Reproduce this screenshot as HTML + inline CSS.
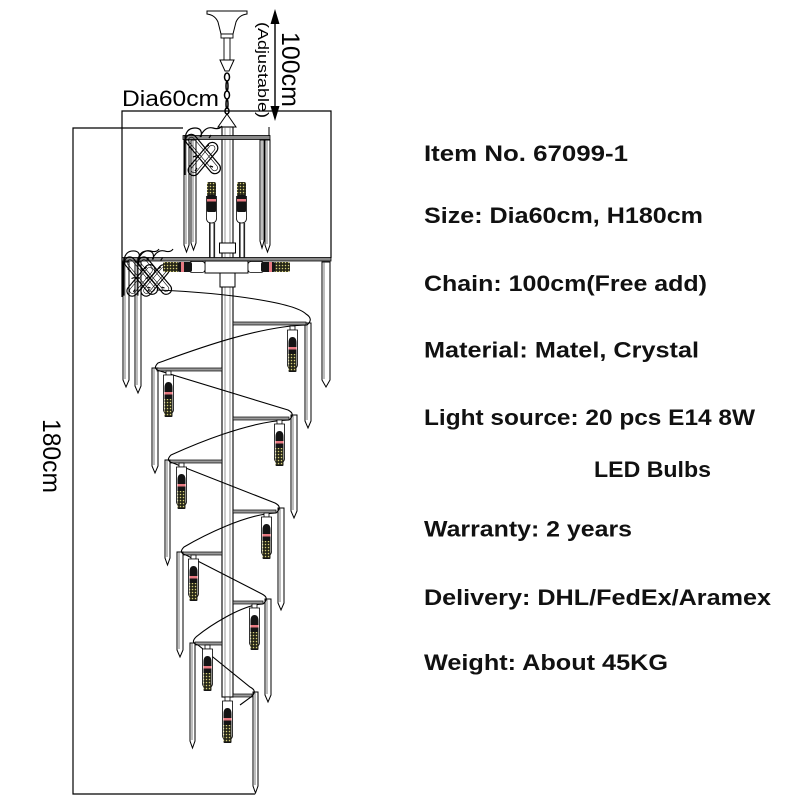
<!DOCTYPE html>
<html>
<head>
<meta charset="utf-8">
<style>
html,body{margin:0;padding:0;background:#fff;}
svg{display:block;}
.t{font-family:"Liberation Sans",Arial,sans-serif;font-weight:bold;font-size:22px;fill:#111;}
.d{font-family:"Liberation Sans",Arial,sans-serif;fill:#000;}
</style>
</head>
<body>
<svg width="800" height="800" viewBox="0 0 800 800" xmlns="http://www.w3.org/2000/svg">
<defs>
  <pattern id="dots" width="3" height="3" patternUnits="userSpaceOnUse">
    <rect width="3" height="3" fill="#262618"/>
    <circle cx="1.5" cy="1.5" r="0.75" fill="#d6cf7a"/>
  </pattern>
  <g id="hb">
    <rect x="3" y="0" width="5" height="4" fill="#fff" stroke="#000" stroke-width="0.8"/>
    <path d="M0.5,4 H10.5 V38 Q10.5,43 5.5,43 Q0.5,43 0.5,38 Z" fill="#fff" stroke="#000" stroke-width="0.8"/>
    <path d="M1.5,17 Q1.5,11 5.5,11 Q9.5,11 9.5,17 V45 Q9.5,46 8.5,46 H2.5 Q1.5,46 1.5,45 Z" fill="#141414"/>
    <rect x="1.5" y="21" width="8" height="2.5" fill="#e87a82"/>
    <rect x="1.5" y="28" width="8" height="17" fill="url(#dots)"/>
  </g>
  <g id="ub">
    <path d="M0.5,14 V36 Q0.5,41 5.5,41 Q10.5,41 10.5,36 V14" fill="#fff" stroke="#000" stroke-width="0.8"/>
    <rect x="1" y="0" width="9" height="14" rx="2" fill="url(#dots)"/>
    <rect x="1" y="13" width="9" height="17" rx="1" fill="#141414"/>
    <rect x="1" y="17" width="9" height="2.5" fill="#e87a82"/>
  </g>
  <g id="hl">
    <rect x="26" y="0.5" width="16" height="11" rx="3" fill="#fff" stroke="#000" stroke-width="0.8"/>
    <rect x="0" y="1" width="16" height="10" rx="2" fill="url(#dots)"/>
    <rect x="15" y="1" width="14" height="10" rx="2" fill="#141414"/>
    <rect x="18" y="1" width="3" height="10" fill="#e87a82"/>
  </g>
  <g id="sc" fill="none" stroke="#000" stroke-width="1.2">
    <rect x="-5.5" y="-24" width="11" height="48" rx="5.5" transform="translate(20,27) rotate(-40)"/>
    <rect x="-3" y="-21" width="6" height="42" rx="3" transform="translate(20,27) rotate(-40)" stroke-width="0.6"/>
    <rect x="-5.5" y="-20" width="11" height="40" rx="5.5" transform="translate(20,32) rotate(40)"/>
    <rect x="-3" y="-17" width="6" height="34" rx="3" transform="translate(20,32) rotate(40)" stroke-width="0.6"/>
    <path d="M2,14 Q2,1 12,1 Q20,1 18,10 M17,10 Q22,-1 30,1 Q36,3 39,-1 M2,8 V48 M6,20 l3,2 M10,30 l3,-1 M26,18 l-3,2 M30,40 l-3,-1 M12,44 l2,-3 M28,8 l-2,3"/>
  </g>
</defs>
<rect width="800" height="800" fill="#fff"/>

<!-- dimension lines -->
<polyline points="183,128 73,128 73,794 255,794" fill="none" stroke="#000" stroke-width="1.2"/>
<polyline points="122,297 122,111 331,111 331,258" fill="none" stroke="#000" stroke-width="1.2"/>
<line x1="275" y1="20" x2="275" y2="110" stroke="#000" stroke-width="1.4"/>
<polygon points="275,9 270.5,24 279.5,24" fill="#000"/>
<polygon points="275,121 270.5,106 279.5,106" fill="#000"/>

<text class="d" x="122" y="106" font-size="22" textLength="97" lengthAdjust="spacingAndGlyphs">Dia60cm</text>
<text class="d" font-size="25" transform="translate(282,32) rotate(90)" textLength="75" lengthAdjust="spacingAndGlyphs">100cm</text>
<text class="d" font-size="15" transform="translate(258,22) rotate(90)" textLength="96" lengthAdjust="spacingAndGlyphs">(Adjustable)</text>
<text class="d" font-size="25" transform="translate(43,419) rotate(90)" textLength="74" lengthAdjust="spacingAndGlyphs">180cm</text>

<!-- canopy and chain -->
<path d="M207,11 H247 V14 Q239,15 236,22 Q234,30 233,34 H221 Q220,30 218,22 Q215,15 207,14 Z" fill="#fff" stroke="#000" stroke-width="1"/>
<rect x="221" y="34" width="12" height="4" fill="#fff" stroke="#000" stroke-width="0.9"/>
<rect x="224" y="38" width="6" height="22" fill="#fff" stroke="#000" stroke-width="0.9"/>
<path d="M220,60 H234 L229,71 H225 Z" fill="#fff" stroke="#000" stroke-width="1"/>
<g fill="none" stroke="#000" stroke-width="1.5">
  <ellipse cx="227" cy="77" rx="2.5" ry="4"/>
  <ellipse cx="227" cy="86" rx="1" ry="4.5"/>
  <ellipse cx="227" cy="95" rx="2.5" ry="4"/>
  <ellipse cx="227" cy="104" rx="1" ry="4.5"/>
  <ellipse cx="227" cy="111" rx="2" ry="3"/>
</g>
<path d="M227,114 L218,127 H236 Z" fill="#fff" stroke="#000" stroke-width="1"/>

<!-- crystals -->
<g fill="#fff" stroke="#000" stroke-width="1">
  <path d="M184,140 V245 L186.5,252 L189,245 V140 Z"/>
  <path d="M191,140 V243 L193.5,250 L196,243 V140 Z"/>
  <path d="M260,140 V241 L262,248 L264,241 V140 Z"/>
  <path d="M265,140 V245 L267.5,252 L270,245 V140 Z"/>
  <path d="M123,262 V380 L126,387 L129,380 V262 Z"/>
  <path d="M135,262 V386 L138,393 L141,386 V262 Z"/>
  <path d="M322,262 V380 L326,387 L330,380 V262 Z"/>
  <path d="M305,323 V421 L308,428 L311,421 V323 Z"/>
  <path d="M152,368 V466 L155,473 L158,466 V368 Z"/>
  <path d="M291,415 V511 L294,518 L297,511 V415 Z"/>
  <path d="M165,460 V558 L167.5,565 L170,558 V460 Z"/>
  <path d="M278,508 V603 L281,610 L284,603 V508 Z"/>
  <path d="M177,552 V650 L180,657 L183,650 V552 Z"/>
  <path d="M265,599 V695 L268,702 L271,695 V599 Z"/>
  <path d="M190,643 V741 L192.5,748 L195,741 V643 Z"/>
  <path d="M253,692 V786 L255.5,793 L258,786 V692 Z"/>
</g>
<g fill="none" stroke="#444" stroke-width="0.7">
  <path d="M186,140 V244 M193,140 V242 M262,140 V240 M267,140 V244 M125,262 V379 M137,262 V385 M324,262 V379 M307,323 V420 M154,368 V465 M293,415 V510 M167,460 V557 M280,508 V602 M179,552 V649 M267,599 V694 M192,643 V740 M255,692 V785"/>
</g>

<!-- central rod -->
<rect x="222" y="127" width="11" height="570" fill="#fff" stroke="#000" stroke-width="1.1"/>
<path d="M225,127 V697 M230,127 V697" stroke="#555" stroke-width="0.6"/>

<!-- tier 1 -->
<rect x="183" y="135.5" width="87" height="4" fill="#8a8a8a" stroke="#000" stroke-width="0.8"/>
<line x1="269" y1="127" x2="269" y2="136" stroke="#000" stroke-width="1"/>
<use href="#sc" transform="translate(183,127)"/>
<rect x="209" y="223" width="1.6" height="35" fill="#222"/>
<rect x="213.5" y="223" width="1.6" height="35" fill="#222"/>
<rect x="239" y="223" width="1.6" height="35" fill="#222"/>
<rect x="243.5" y="223" width="1.6" height="35" fill="#222"/>
<use href="#ub" transform="translate(206,182)"/>
<use href="#ub" transform="translate(236,182)"/>
<rect x="219.5" y="243" width="16" height="10" fill="#fff" stroke="#000" stroke-width="1"/>

<!-- tier 2 -->
<rect x="122" y="257.5" width="209" height="3.5" fill="#8a8a8a" stroke="#000" stroke-width="0.8"/>
<use href="#sc" transform="translate(122,250) scale(0.95)"/>
<use href="#sc" transform="translate(136,250) scale(0.95)"/>
<rect x="205" y="261" width="43" height="12" fill="#fff" stroke="#000" stroke-width="1"/>
<rect x="220" y="273" width="15" height="14" fill="#fff" stroke="#000" stroke-width="1"/>
<use href="#hl" transform="translate(163,261)"/>
<use href="#hl" transform="translate(290,261) scale(-1,1)"/>

<!-- shelves -->
<g fill="#9a9a9a" stroke="#000" stroke-width="0.7">
  <rect x="233" y="322" width="73" height="3"/>
  <rect x="233" y="417" width="56" height="3"/>
  <rect x="233" y="510" width="43" height="3"/>
  <rect x="233" y="601" width="30" height="3"/>
  <rect x="233" y="694" width="19" height="3"/>
  <rect x="157" y="368" width="65" height="3"/>
  <rect x="170" y="460" width="52" height="3"/>
  <rect x="183" y="552" width="39" height="3"/>
  <rect x="195" y="642" width="27" height="3"/>
</g>

<!-- spiral -->
<path d="M157,290 C230,293 295,303 306,314 Q314,319 307,325
C256,326 186,353 158,363 Q152,369 160,371
L288,410 Q296,414 289,420
C249,421 193,445 171,455 Q165,461 173,463
L275,503 Q283,507 276,513
C245,514 201,537 184,547 Q178,553 186,555
L262,594 Q270,598 263,604
C241,605 208,627 196,637 Q190,643 198,645
L250,687 Q258,691 251,697
L240,705" fill="none" stroke="#000" stroke-width="1.1"/>

<!-- hanging bulbs -->
<use href="#hb" transform="translate(287,326)"/>
<use href="#hb" transform="translate(163,371)"/>
<use href="#hb" transform="translate(274,420)"/>
<use href="#hb" transform="translate(176,463)"/>
<use href="#hb" transform="translate(261,513)"/>
<use href="#hb" transform="translate(188,555)"/>
<use href="#hb" transform="translate(249,604)"/>
<use href="#hb" transform="translate(202,645)"/>
<use href="#hb" transform="translate(222,697)"/>

<!-- spec text -->
<text class="t" x="424" y="161" textLength="204" lengthAdjust="spacingAndGlyphs">Item No. 67099-1</text>
<text class="t" x="424" y="223" textLength="279" lengthAdjust="spacingAndGlyphs">Size: Dia60cm, H180cm</text>
<text class="t" x="424" y="291" textLength="283" lengthAdjust="spacingAndGlyphs">Chain: 100cm(Free add)</text>
<text class="t" x="424" y="357.5" textLength="275" lengthAdjust="spacingAndGlyphs">Material: Matel, Crystal</text>
<text class="t" x="424" y="425" textLength="331" lengthAdjust="spacingAndGlyphs">Light source: 20 pcs E14 8W</text>
<text class="t" x="594" y="477" textLength="117" lengthAdjust="spacingAndGlyphs">LED Bulbs</text>
<text class="t" x="424" y="536.5" textLength="208" lengthAdjust="spacingAndGlyphs">Warranty: 2 years</text>
<text class="t" x="424" y="605" textLength="347" lengthAdjust="spacingAndGlyphs">Delivery: DHL/FedEx/Aramex</text>
<text class="t" x="424" y="670" textLength="244" lengthAdjust="spacingAndGlyphs">Weight: About 45KG</text>
</svg>
</body>
</html>
